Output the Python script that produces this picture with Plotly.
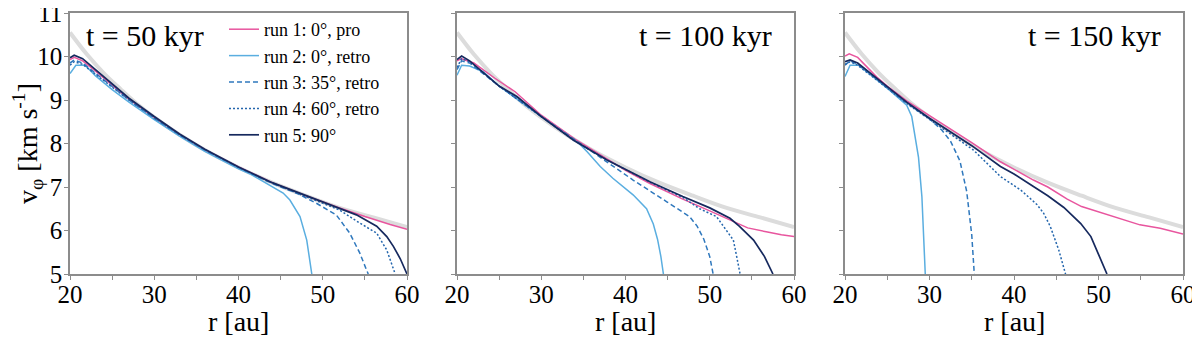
import plotly.graph_objects as go

# grey reference curve (same in every panel)
r_grey = [20, 22, 24, 26, 28, 30, 33, 36, 40, 44, 48, 52, 56, 60]
v_grey = [10.55, 10.05, 9.62, 9.25, 8.9, 8.6, 8.2, 7.85, 7.45, 7.1, 6.8, 6.52, 6.3, 6.08]

# t = 50 kyr
r_50_run1 = [20, 20.5, 21.5, 23, 25, 27, 30, 33, 36, 40, 44, 48, 52, 55, 58, 60]
v_50_run1 = [9.93, 9.98, 9.9, 9.67, 9.34, 9.02, 8.6, 8.21, 7.86, 7.46, 7.1, 6.8, 6.52, 6.32, 6.14, 6.03]
r_50_run2 = [20, 20.7, 21.8, 23, 25, 27, 30, 33, 36, 40, 41.4, 43, 45.3, 46.1, 47.3, 48.1, 48.7]
v_50_run2 = [9.61, 9.8, 9.8, 9.56, 9.24, 8.95, 8.55, 8.17, 7.82, 7.42, 7.3, 7.12, 6.86, 6.7, 6.32, 5.78, 5.0]
r_50_run3 = [20, 20.5, 21.5, 23, 25, 27, 30, 33, 36, 40, 44, 47, 49.3, 51.6, 53.2, 54.4, 55.2, 55.4]
v_50_run3 = [9.85, 9.92, 9.85, 9.62, 9.3, 9.0, 8.58, 8.2, 7.85, 7.45, 7.08, 6.85, 6.62, 6.36, 5.94, 5.48, 5.09, 5.0]
r_50_run4 = [20, 20.5, 21.5, 23, 25, 27, 30, 33, 36, 40, 44, 48, 52, 54.4, 56.4, 57.6, 58.4, 58.6]
v_50_run4 = [9.8, 9.88, 9.82, 9.6, 9.3, 9.0, 8.59, 8.2, 7.86, 7.45, 7.09, 6.78, 6.47, 6.17, 5.94, 5.55, 5.09, 5.0]
r_50_run5 = [20, 20.5, 21.5, 23, 25, 27, 30, 33, 36, 40, 44, 48, 52, 54, 56.4, 57.6, 58.4, 59.2, 60]
v_50_run5 = [9.97, 10.03, 9.95, 9.7, 9.36, 9.04, 8.62, 8.22, 7.87, 7.46, 7.1, 6.8, 6.5, 6.36, 6.1, 5.86, 5.63, 5.35, 5.0]

# t = 100 kyr
r_100_run1 = [20, 20.5, 22, 24.5, 26.9, 30, 34, 37, 40, 42.9, 46.8, 50, 52.8, 54.5, 56.7, 58.5, 60]
v_100_run1 = [9.9, 9.95, 9.85, 9.5, 9.19, 8.65, 8.1, 7.74, 7.38, 7.08, 6.72, 6.45, 6.2, 6.06, 5.97, 5.9, 5.86]
r_100_run2 = [20, 20.55, 21.5, 23.1, 25, 30, 34.6, 35.5, 37, 38.5, 40.9, 42.5, 43.3, 43.8, 44.2, 44.5]
v_100_run2 = [9.57, 9.8, 9.78, 9.65, 9.32, 8.62, 7.98, 7.8, 7.47, 7.2, 6.82, 6.5, 6.15, 5.8, 5.4, 5.0]
r_100_run3 = [20, 20.55, 21.5, 23, 25, 30, 34, 37, 40.9, 44.9, 47.6, 48.5, 49.3, 50, 50.4]
v_100_run3 = [9.7, 9.9, 9.85, 9.63, 9.32, 8.62, 8.08, 7.67, 7.16, 6.66, 6.32, 6.1, 5.8, 5.4, 5.0]
r_100_run4 = [20, 20.55, 21.5, 23, 25, 30, 33.8, 37.8, 42.9, 46.8, 48.8, 50.8, 52.0, 52.8, 53.2, 53.6]
v_100_run4 = [9.75, 9.95, 9.88, 9.64, 9.32, 8.62, 8.08, 7.62, 7.11, 6.76, 6.5, 6.32, 6.0, 5.78, 5.4, 5.0]
r_100_run5 = [20, 20.55, 21.5, 23, 25, 27.1, 30, 33.8, 37.8, 42.9, 46.8, 50, 52.4, 53.5, 55.2, 56.5, 57.5]
v_100_run5 = [9.93, 10.01, 9.9, 9.65, 9.32, 9.08, 8.62, 8.08, 7.62, 7.12, 6.78, 6.52, 6.28, 6.1, 5.78, 5.4, 5.0]

# t = 150 kyr
r_150_run1 = [20, 20.5, 21.5, 23.8, 25, 27.3, 30, 32.8, 35, 38.4, 40, 42.3, 44, 46.3, 48, 50.2, 52, 54.9, 57.3, 60]
v_150_run1 = [10.01, 10.06, 9.98, 9.52, 9.32, 8.98, 8.64, 8.3, 8.02, 7.58, 7.4, 7.16, 7.0, 6.72, 6.55, 6.42, 6.3, 6.13, 6.05, 5.92]
r_150_run2 = [20, 20.6, 21.6, 23, 25, 27.3, 27.9, 28.7, 29.1, 29.5]
v_150_run2 = [9.54, 9.8, 9.8, 9.58, 9.27, 8.88, 8.62, 7.68, 6.78, 5.0]
r_150_run3 = [20, 20.6, 21.5, 23, 25, 27.3, 30.1, 31.5, 32.5, 33.6, 34.4, 35.0, 35.3]
v_150_run3 = [9.8, 9.9, 9.82, 9.6, 9.28, 8.93, 8.55, 8.3, 8.05, 7.6, 6.9, 5.9, 5.0]
r_150_run4 = [20, 20.6, 21.5, 23, 25, 27.3, 30, 32.8, 35.2, 38.4, 40.8, 42.7, 43.5, 44.3, 45.3, 46.1]
v_150_run4 = [9.82, 9.88, 9.8, 9.58, 9.27, 8.92, 8.56, 8.18, 7.85, 7.24, 6.93, 6.6, 6.4, 6.09, 5.55, 5.0]
r_150_run5 = [20, 20.6, 21.5, 23, 25, 27.3, 30, 32.8, 35, 38.4, 40, 42.3, 44, 45.9, 47.9, 49.1, 50, 51.0]
v_150_run5 = [9.88, 9.92, 9.85, 9.62, 9.3, 8.95, 8.58, 8.22, 7.95, 7.47, 7.3, 7.01, 6.8, 6.53, 6.16, 5.86, 5.45, 5.0]

run_names = ["run 1: 0°, pro", "run 2: 0°, retro", "run 3: 35°, retro",
             "run 4: 60°, retro", "run 5: 90°"]
panel_titles = ["t = 50 kyr", "t = 100 kyr", "t = 150 kyr"]

FONT = "Liberation Serif"
AX = "#8c8c8c"
styles = [
    dict(color="#e8559e", width=1.5),
    dict(color="#5aaee0", width=1.5),
    dict(color="#2f78bd", width=1.5, dash="5px,3px"),
    dict(color="#2466ad", width=1.5, dash="2px,2px"),
    dict(color="#16295e", width=1.7),
]

panels = [
    [(r_50_run1, v_50_run1), (r_50_run2, v_50_run2), (r_50_run3, v_50_run3),
     (r_50_run4, v_50_run4), (r_50_run5, v_50_run5)],
    [(r_100_run1, v_100_run1), (r_100_run2, v_100_run2), (r_100_run3, v_100_run3),
     (r_100_run4, v_100_run4), (r_100_run5, v_100_run5)],
    [(r_150_run1, v_150_run1), (r_150_run2, v_150_run2), (r_150_run3, v_150_run3),
     (r_150_run4, v_150_run4), (r_150_run5, v_150_run5)],
]

# the page body adds an 8px margin, so the figure is 8px smaller and
# positions below are given in window pixels and converted
OFF = 8
W, H = 1192, 332


def px(x):
    return (x - OFF) / W


def py(y):
    return 1 - (y - OFF) / H


x_doms = [(70, 407), (457, 794), (845, 1183)]
y_dom = [py(274), py(13)]

fig = go.Figure()
for i, runs in enumerate(panels):
    sfx = "" if i == 0 else str(i + 1)
    fig.add_scatter(x=r_grey, y=v_grey, mode="lines", showlegend=False, hoverinfo="skip",
                    line=dict(color="#dcdcdc", width=4, shape="spline"),
                    xaxis="x" + sfx, yaxis="y" + sfx)
    for j, (r, v) in enumerate(runs):
        fig.add_scatter(x=r, y=v, mode="lines", name=run_names[j], showlegend=(i == 0),
                        line=styles[j], xaxis="x" + sfx, yaxis="y" + sfx)

axis_common = dict(showline=True, linecolor=AX, linewidth=1.5, mirror=True,
                   ticks="outside", ticklen=4, tickcolor=AX, tickwidth=1.2,
                   showgrid=False, zeroline=False, automargin=False,
                   ticklabeloverflow="allow",
                   tickfont=dict(family=FONT, size=25, color="black"))

layout = dict(
    width=W, height=H, margin=dict(l=0, r=0, t=0, b=0),
    plot_bgcolor="white", paper_bgcolor="white",
    font=dict(family=FONT, color="black", size=18),
    legend=dict(x=px(224), y=py(11), xanchor="left", yanchor="top",
                bgcolor="rgba(0,0,0,0)", font=dict(family=FONT, size=18),
                itemwidth=30, tracegroupgap=0),
)
annotations = []
for i, (x0, x1) in enumerate(x_doms):
    sfx = "" if i == 0 else str(i + 1)
    layout["xaxis" + sfx] = dict(
        axis_common, domain=[px(x0), px(x1)], range=[20, 60], dtick=10, anchor="y" + sfx,
        ticklabelstandoff=-7,
        minor=dict(dtick=5, ticks="outside", ticklen=4, tickcolor=AX, tickwidth=1.2),
    )
    layout["yaxis" + sfx] = dict(
        axis_common, domain=y_dom, range=[5, 11], dtick=1, anchor="x" + sfx,
        showticklabels=(i == 0), ticklabelstandoff=-3,
    )
    annotations.append(dict(text="r [au]", x=px((x0 + x1) / 2), y=py(321),
                            xref="paper", yref="paper", xanchor="center", yanchor="middle",
                            showarrow=False, font=dict(family=FONT, size=28)))
    if i == 0:
        annotations.append(dict(text=panel_titles[i], x=px(84), y=py(35), xref="paper", yref="paper",
                                xanchor="left", yanchor="middle", showarrow=False,
                                font=dict(family=FONT, size=30)))
    else:
        annotations.append(dict(text=panel_titles[i], x=px(x1 - 20), y=py(35), xref="paper",
                                yref="paper", xanchor="right", yanchor="middle", showarrow=False,
                                font=dict(family=FONT, size=30)))

layout["yaxis"]["title"] = dict(text="v<sub>φ</sub> [km s<sup>-1</sup>]",
                                font=dict(family=FONT, size=28), standoff=6)
layout["annotations"] = annotations
fig.update_layout(**layout)

fig.write_html("out.html")
